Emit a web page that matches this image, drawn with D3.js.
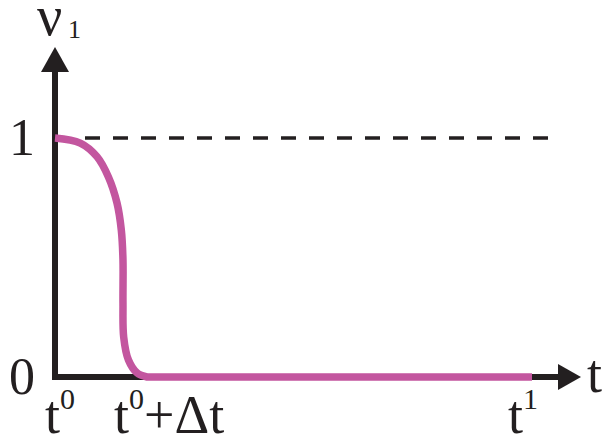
<!DOCTYPE html>
<html>
<head>
<meta charset="utf-8">
<script src="https://cdn.jsdelivr.net/npm/d3@7"></script>
<style>
  html, body { margin: 0; padding: 0; background: #fff; }
  svg { display: block; }
  text { font-family: "Liberation Serif", "DejaVu Serif", serif; fill: #231f20; }
</style>
</head>
<body>
<script>
// Normalised time (t0 = 0, t1 = 100) and the activation v1 along it
const curveT = [0, 5.3, 8.8, 11.2, 13.0, 13.9, 14.25, 14.25, 14.4, 15.4, 17.2, 19.3, 100];
const curveV = [1, 0.979, 0.922, 0.837, 0.728, 0.615, 0.49, 0.31, 0.167, 0.071, 0.017, 0, 0];
const yTickValues = [0, 1];
const yTickLabels = ["0", "1"];
const referenceLevel = 1;
const deltaT = 19.3;

const W = 607, H = 445;
const svg = d3.select("body").append("svg").attr("width", W).attr("height", H);

const x = d3.scaleLinear().domain([0, 100]).range([55, 532]);
const y = d3.scaleLinear().domain([0, 1]).range([377, 138]);

const ink = "#231f20";
const magenta = "#c3569f";

// dashed reference line at v1 = 1
svg.append("line")
  .attr("x1", x(0) + 30).attr("x2", x(100) + 20)
  .attr("y1", y(referenceLevel)).attr("y2", y(referenceLevel))
  .attr("stroke", ink).attr("stroke-width", 3.5)
  .attr("stroke-dasharray", "15,13");

// axes with arrowheads
const xEnd = x(100) + 26, yTop = 72;
svg.append("path")
  .attr("d", `M${x(0)},${yTop}V${y(0)}H${xEnd}`)
  .attr("fill", "none").attr("stroke", ink).attr("stroke-width", 6)
  .attr("stroke-linejoin", "miter");
svg.append("path")
  .attr("d", `M${x(0) - 14},${yTop}L${x(0)},${yTop - 25}L${x(0) + 14},${yTop}Z`)
  .attr("fill", ink);
svg.append("path")
  .attr("d", `M${xEnd},${y(0) - 13}L${xEnd + 23},${y(0)}L${xEnd},${y(0) + 13}Z`)
  .attr("fill", ink);

// response curve: smooth fall, then a straight run along zero
const pts = curveT.map((t, i) => [t, curveV[i]]);
const nFall = curveT.findIndex(t => t >= deltaT) + 1;
const fall = d3.line()
  .x(d => x(d[0])).y(d => y(d[1]))
  .curve(d3.curveCatmullRom.alpha(0.5));
const flat = d3.line().x(d => x(d[0])).y(d => y(d[1]));
svg.append("path")
  .attr("d", fall(pts.slice(0, nFall)) + flat(pts.slice(nFall - 1)).replace(/^M/, "L"))
  .attr("fill", "none").attr("stroke", magenta).attr("stroke-width", 7.5)
  .attr("stroke-linecap", "butt").attr("stroke-linejoin", "round");

// y tick labels
svg.selectAll("text.ytick")
  .data(yTickValues)
  .join("text")
  .attr("class", "ytick")
  .attr("x", x(0) - 20)
  .attr("y", d => y(d) + 17)
  .attr("text-anchor", "end")
  .attr("font-size", 52)
  .text((d, i) => yTickLabels[i]);

// axis titles
svg.append("text").attr("x", 37).attr("y", 35)
  .attr("font-size", 56).text("ν");
svg.append("text").attr("x", 68).attr("y", 38)
  .attr("font-size", 26).text("1");

svg.append("text").attr("x", 587).attr("y", 392).attr("font-size", 54).text("t");

// time labels under the axis
const baseY = 433;
function timeLabel(xc, parts) {
  const t = svg.append("text").attr("x", xc).attr("y", baseY)
    .attr("font-size", 54).attr("text-anchor", "middle");
  parts.forEach(p => {
    const s = t.append("tspan").text(p.text);
    if (p.sup) s.attr("font-size", 30).attr("baseline-shift", "80%");
  });
}
timeLabel(x(0) + 5, [{ text: "t" }, { text: "0", sup: true }]);
timeLabel(x(deltaT) + 22, [{ text: "t" }, { text: "0", sup: true }, { text: "+Δt" }]);
timeLabel(x(100) - 9, [{ text: "t" }, { text: "1", sup: true }]);
</script>
</body>
</html>
